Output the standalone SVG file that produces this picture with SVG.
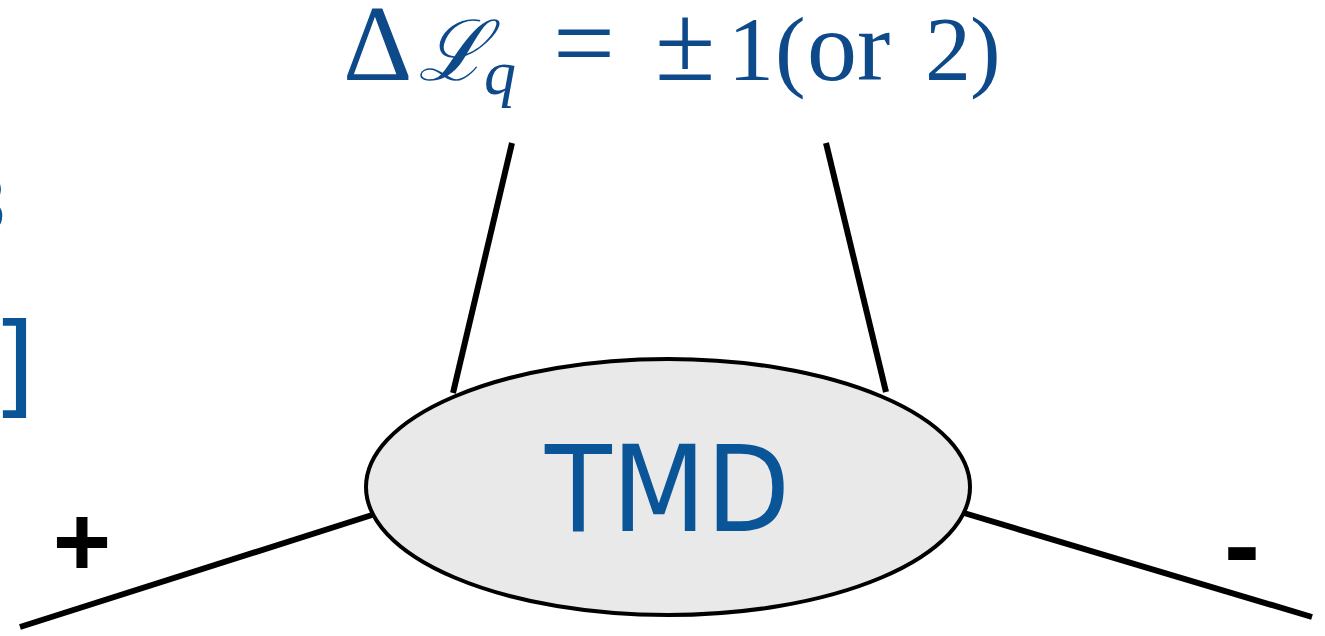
<svg xmlns="http://www.w3.org/2000/svg" width="1325" height="636" viewBox="0 0 1325 636">
<style>
.ln{stroke:#000;stroke-width:6;fill:none}
.math{font-family:"Liberation Serif","DejaVu Serif",serif;fill:#0e4a8a;font-size:92px}
.hand{font-family:"DejaVu Sans","Liberation Sans",sans-serif;fill:#0a5597}
.sign{font-family:"Liberation Sans",sans-serif;fill:#000;font-weight:bold}
</style>
<rect width="1325" height="636" fill="#fff"/>
<g id="connectors">
<line class="ln" x1="512" y1="143" x2="453" y2="393"/>
<line class="ln" x1="826" y1="143" x2="886" y2="392"/>
<line class="ln" x1="20" y1="627" x2="372" y2="515"/>
<line class="ln" x1="964" y1="513" x2="1312" y2="617"/>
</g>
<g id="tmd">
<ellipse cx="668" cy="487" rx="302" ry="128" fill="#e9e9e9" stroke="#000" stroke-width="4"/>
<text class="hand" x="545" y="531" font-size="120" textLength="245" lengthAdjust="spacingAndGlyphs">TMD</text>
</g>
<g id="title">
<text class="math"><tspan x="343" y="80" font-size="108">Δ</tspan><tspan x="418" y="80" font-family="DejaVu Serif" font-style="italic" font-size="84">ℒ</tspan><tspan x="484" y="94" font-style="italic" font-size="64">q</tspan><tspan x="553" y="80" font-size="110">=</tspan><tspan x="655" y="80" font-size="110">±</tspan><tspan x="728" y="80">1</tspan><tspan x="775" y="80">(</tspan><tspan x="807" y="80" font-size="100">or</tspan><tspan x="925" y="80">2</tspan><tspan x="970" y="80">)</tspan></text>
</g>
<g id="plus"><text class="sign" x="82" y="576" font-size="100" text-anchor="middle">+</text></g>
<g id="minus"><text class="sign" x="1242" y="582" font-size="108" text-anchor="middle">-</text></g>
<g id="left-fragments">
<text class="hand" x="-40" y="232" font-size="76">3</text>
<text class="hand" x="-8" y="403" font-size="112">]</text>
</g>
</svg>
